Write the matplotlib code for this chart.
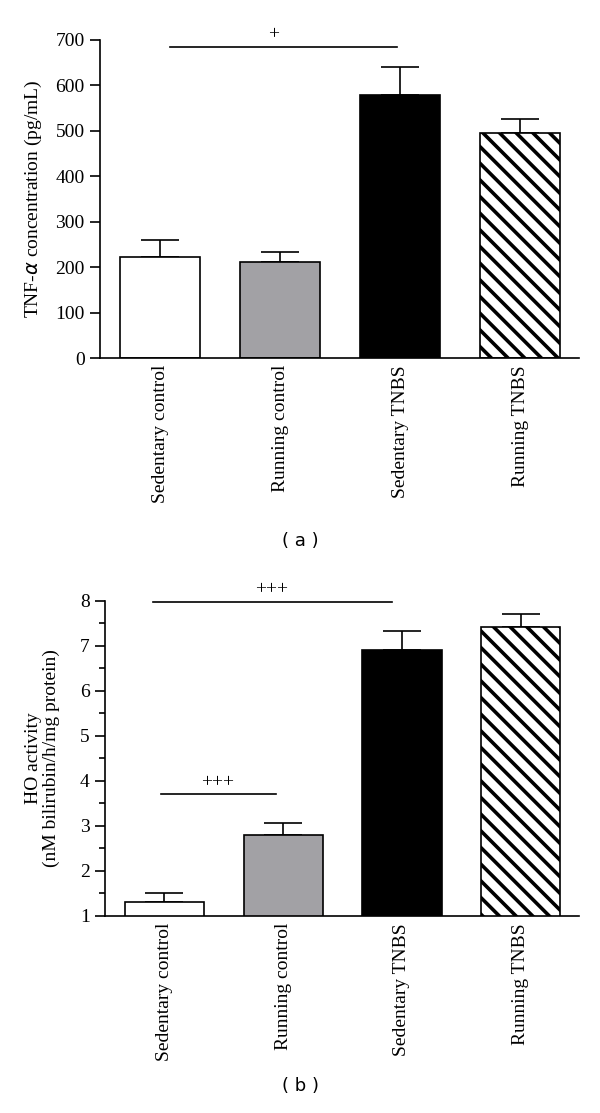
import matplotlib
matplotlib.use("Agg")
import matplotlib.pyplot as plt
import numpy as np

categories = ["Sedentary control", "Running control", "Sedentary TNBS", "Running TNBS"]
tnf_mean = [223, 211, 579, 496]
tnf_err = [37, 23, 61, 31]
ho_mean = [1.30, 2.79, 6.91, 7.41]
ho_err = [0.22, 0.27, 0.41, 0.29]

face_colors = ["white", "#a2a1a5", "black", "white"]
hatches = [None, None, None, "\\\\"]

plt.rcParams["hatch.linewidth"] = 2.6
serif = ["Liberation Serif", "DejaVu Serif"]
FS = 14

fig = plt.figure(figsize=(6, 11.13), dpi=100)
ax1 = fig.add_axes([0.1667, 0.6783, 0.798, 0.2858])
ax2 = fig.add_axes([0.175, 0.177, 0.79, 0.2833])

x = np.arange(len(categories))


def draw(ax, means, errs):
    for i in range(len(categories)):
        ax.bar(x[i], means[i], width=0.667, color=face_colors[i],
               edgecolor="black", linewidth=1.2, hatch=hatches[i], zorder=2)
        ax.errorbar(x[i], means[i], yerr=[[0], [errs[i]]], fmt="none",
                    ecolor="black", elinewidth=1.2, capsize=14, capthick=1.2, zorder=1)
    ax.set_xlim(-0.5, 3.49)
    for s in ["top", "right"]:
        ax.spines[s].set_visible(False)
    ax.spines["left"].set_linewidth(1.2)
    ax.spines["bottom"].set_linewidth(1.2)
    ax.set_xticks(x)
    ax.set_xticklabels(categories, rotation=90, fontfamily=serif, fontsize=FS)
    ax.tick_params(axis="x", length=0, pad=5)
    ax.tick_params(axis="y", which="major", length=7, width=1.2, labelsize=FS, direction="out", pad=4)
    ax.tick_params(axis="y", which="minor", length=4.5, width=1.2)


draw(ax1, tnf_mean, tnf_err)
ax1.set_ylim(0, 700)
ax1.set_yticks(np.arange(0, 701, 100))
for lab in ax1.get_yticklabels():
    lab.set_fontfamily(serif)
ax1.set_ylabel(r"TNF-$\alpha$ concentration (pg/mL)", fontfamily=serif, fontsize=FS, labelpad=8)
ax1.plot([0.083, 1.975], [685, 685], color="black", lw=1.2, clip_on=False)
ax1.text(0.95, 693, "+", ha="center", va="bottom", fontsize=FS, fontfamily=serif)

draw(ax2, ho_mean, ho_err)
ax2.set_ylim(1, 8)
ax2.set_yticks(np.arange(1, 9, 1))
ax2.set_yticks(np.arange(1.5, 8, 1), minor=True)
for lab in ax2.get_yticklabels():
    lab.set_fontfamily(serif)
ax2.set_ylabel("HO activity\n(nM bilirubin/h/mg protein)", fontfamily=serif, fontsize=FS,
               labelpad=14, linespacing=1.05)
ax2.plot([-0.1, 1.915], [7.97, 7.97], color="black", lw=1.2, clip_on=False)
ax2.text(0.9, 8.05, "+++", ha="center", va="bottom", fontsize=FS, fontfamily=serif)
ax2.plot([-0.025, 0.94], [3.70, 3.70], color="black", lw=1.2)
ax2.text(0.45, 3.78, "+++", ha="center", va="bottom", fontsize=FS, fontfamily=serif)

fig.text(0.5, 1 - 541 / 1113, "( a )", ha="center", va="center", fontsize=13, family="DejaVu Sans")
fig.text(0.5, 1 - 1086 / 1113, "( b )", ha="center", va="center", fontsize=13, family="DejaVu Sans")

fig.savefig("out.png", dpi=100)
